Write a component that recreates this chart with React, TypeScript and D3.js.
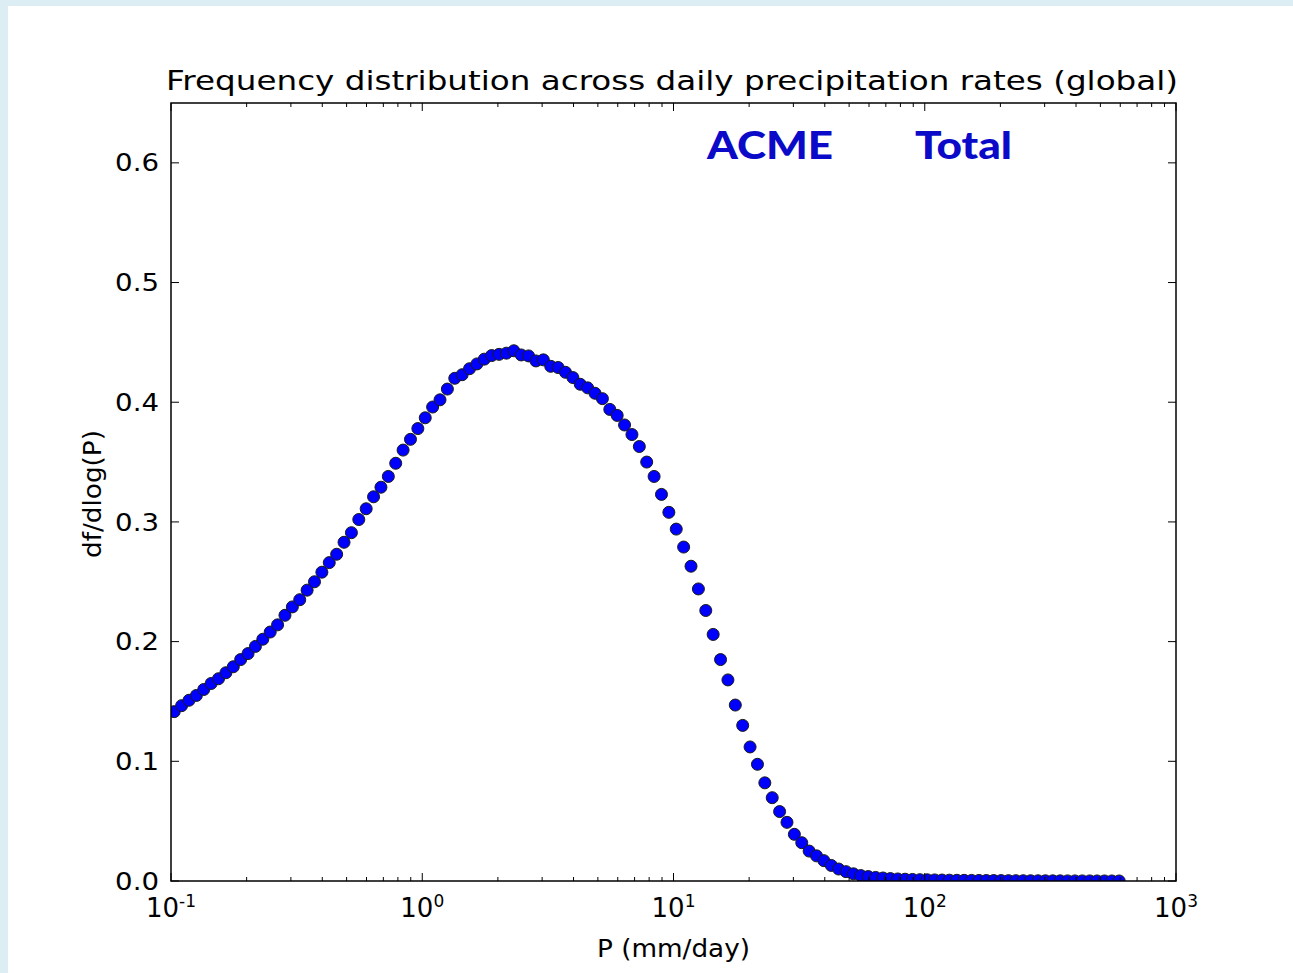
import React from 'react';
import * as d3 from 'd3';

// Bin grid: logarithmic bins growing by 7% per bin
const BIN_START = 0.103;
const BIN_GROWTH = 1.07;

// df/dlog(P) per bin
const dfValues: number[] = [
  0.1415, 0.1465, 0.151, 0.155, 0.16, 0.165, 0.169, 0.174, 0.179, 0.185,
  0.19, 0.196, 0.202, 0.208, 0.214, 0.222, 0.229, 0.235, 0.243, 0.25,
  0.258, 0.266, 0.273, 0.283, 0.291, 0.302, 0.311, 0.321, 0.329, 0.338,
  0.349, 0.36, 0.369, 0.378, 0.387, 0.396, 0.402, 0.411, 0.42, 0.423,
  0.428, 0.432, 0.436, 0.439, 0.44, 0.441, 0.443, 0.4395, 0.4387, 0.4345,
  0.4354, 0.43, 0.429, 0.425, 0.4206, 0.415, 0.412, 0.4075, 0.403, 0.394,
  0.389, 0.381, 0.373, 0.363, 0.35, 0.338, 0.323, 0.308, 0.294, 0.279,
  0.263, 0.244, 0.226, 0.206, 0.185, 0.168, 0.147, 0.13, 0.112, 0.0975,
  0.082, 0.0696, 0.058, 0.049, 0.039, 0.032, 0.025, 0.021, 0.017, 0.013,
  0.01, 0.0078, 0.006, 0.0045, 0.0037, 0.003, 0.0025, 0.002, 0.0017, 0.0015,
  0.0013, 0.0011, 0.001, 0.0009, 0.0008, 0.0007, 0.0006, 0.00055, 0.0005, 0.00045,
  0.0004, 0.00036, 0.00032, 0.00029, 0.00026, 0.00023, 0.0002, 0.00018, 0.00016, 0.00014,
  0.00012, 0.0001, 0.00009, 0.00008, 0.00007, 0.00006, 0.00005, 0.00004, 0.00003,
];

const yTicks = [0, 0.1, 0.2, 0.3, 0.4, 0.5, 0.6];
const xDecades = [-1, 0, 1, 2, 3];
const minorMultipliers = [2, 3, 4, 5, 6, 7, 8, 9];

const TITLE = 'Frequency distribution across daily precipitation rates (global)';
const X_LABEL = 'P (mm/day)';
const Y_LABEL = 'df/dlog(P)';
const TAG_LEFT = 'ACME';
const TAG_RIGHT = 'Total';

const W = 1293;
const H = 973;
const M = { left: 171, right: 1176, top: 103, bottom: 881 };
const FONT = "'DejaVu Sans', sans-serif";

export default function App() {
  const x = d3.scaleLog().domain([0.1, 1000]).range([M.left, M.right]);
  const y = d3.scaleLinear().domain([0, 0.65]).range([M.bottom, M.top]);

  const points = dfValues.map((v, i) => ({ p: BIN_START * Math.pow(BIN_GROWTH, i), v }));

  const minorTicks: number[] = [];
  xDecades.slice(0, -1).forEach((d) => {
    minorMultipliers.forEach((m) => minorTicks.push(m * Math.pow(10, d)));
  });

  const majorLen = 8;
  const minorLen = 4;

  return (
    <svg
      width={W}
      height={H}
      style={{ position: 'absolute', left: 0, top: 0, display: 'block' }}
    >
      <rect x={0} y={0} width={W} height={H} fill="#ddedf4" />
      <rect x={8} y={6} width={W - 8} height={H - 6} fill="#ffffff" />

      <defs>
        <clipPath id="plotClip">
          <rect x={M.left} y={M.top} width={M.right - M.left} height={M.bottom - M.top} />
        </clipPath>
      </defs>

      {/* data points */}
      <g clipPath="url(#plotClip)">
        {points.map((d, i) => (
          <circle
            key={i}
            cx={x(d.p)}
            cy={y(d.v)}
            r={6}
            fill="#0000ff"
            stroke="#1a1a1a"
            strokeWidth={1}
          />
        ))}
      </g>

      {/* y ticks (left and right, inward) */}
      {yTicks.map((t) => (
        <g key={'y' + t}>
          <line x1={M.left} x2={M.left + majorLen} y1={y(t)} y2={y(t)} stroke="#000" strokeWidth={1} />
          <line x1={M.right} x2={M.right - majorLen} y1={y(t)} y2={y(t)} stroke="#000" strokeWidth={1} />
          <text
            transform={`translate(159, ${y(t)}) scale(1.15, 1)`}
            dy="0.36em"
            textAnchor="end"
            fontFamily={FONT}
            fontSize={24}
            fill="#000"
          >
            {t.toFixed(1)}
          </text>
        </g>
      ))}

      {/* x major ticks */}
      {xDecades.map((d) => {
        const px = x(Math.pow(10, d));
        return (
          <g key={'x' + d}>
            <line x1={px} x2={px} y1={M.bottom} y2={M.bottom - majorLen} stroke="#000" strokeWidth={1} />
            <line x1={px} x2={px} y1={M.top} y2={M.top + majorLen} stroke="#000" strokeWidth={1} />
            <text x={px} y={917} textAnchor="middle" fontFamily={FONT} fontSize={26} fill="#000">
              <tspan>10</tspan>
              <tspan dy={-10} fontSize={17}>{String(d)}</tspan>
            </text>
          </g>
        );
      })}

      {/* x minor ticks */}
      {minorTicks.map((t, i) => {
        const px = x(t);
        return (
          <g key={'m' + i}>
            <line x1={px} x2={px} y1={M.bottom} y2={M.bottom - minorLen} stroke="#000" strokeWidth={1} />
            <line x1={px} x2={px} y1={M.top} y2={M.top + minorLen} stroke="#000" strokeWidth={1} />
          </g>
        );
      })}

      {/* frame */}
      <rect
        x={M.left}
        y={M.top}
        width={M.right - M.left}
        height={M.bottom - M.top}
        fill="none"
        stroke="#000"
        strokeWidth={1.5}
      />

      {/* title */}
      <text
        x={166}
        y={90}
        fontFamily={FONT}
        fontSize={27}
        fill="#000"
        textLength={1012}
        lengthAdjust="spacingAndGlyphs"
      >
        {TITLE}
      </text>

      {/* axis labels */}
      <text
        x={597}
        y={957}
        fontFamily={FONT}
        fontSize={25}
        fill="#000"
        textLength={153}
        lengthAdjust="spacingAndGlyphs"
      >
        {X_LABEL}
      </text>
      <text
        transform={`translate(101, 558) rotate(-90)`}
        fontFamily={FONT}
        fontSize={24}
        fill="#000"
        textLength={128}
        lengthAdjust="spacingAndGlyphs"
      >
        {Y_LABEL}
      </text>

      {/* tags */}
      <text
        x={707}
        y={159}
        fontFamily="Lato, 'Open Sans', sans-serif"
        fontWeight={900}
        fontSize={38}
        fill="#0a0ac8"
        textLength={126}
        lengthAdjust="spacingAndGlyphs"
      >
        {TAG_LEFT}
      </text>
      <text
        x={915}
        y={159}
        fontFamily="Lato, 'Open Sans', sans-serif"
        fontWeight={900}
        fontSize={38}
        fill="#0a0ac8"
        textLength={97}
        lengthAdjust="spacingAndGlyphs"
      >
        {TAG_RIGHT}
      </text>
    </svg>
  );
}
